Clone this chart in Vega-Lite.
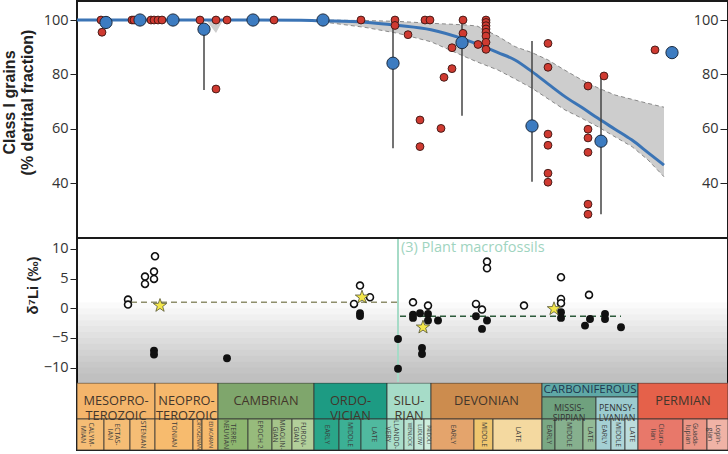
{
  "$schema": "https://vega.github.io/schema/vega-lite/v6.json",
  "padding": {"left": 1, "top": 1, "right": 0, "bottom": 0},
  "width": 651,
  "height": 449,
  "config": {
    "view": {"stroke": "#1a1a1a", "strokeWidth": 2},
    "axis": {"labelFont": "Open Sans", "labelFontSize": 14.5, "labelColor": "#333333", "tickColor": "#222222", "domain": false, "grid": false, "titleFont": "Liberation Sans", "titleFontWeight": "bold", "titleFontSize": 16, "titleColor": "#222222"}
  },
  "datasets": {
    "fit": [
      {"x": 0, "fit": 100, "lo": 100, "hi": 100},
      {"x": 123, "fit": 100, "lo": 100, "hi": 100},
      {"x": 129, "fit": 100, "lo": 100, "hi": 100},
      {"x": 139, "fit": 100, "lo": 95.2, "hi": 100},
      {"x": 146, "fit": 100, "lo": 100, "hi": 100},
      {"x": 150, "fit": 100, "lo": 100, "hi": 100},
      {"x": 224, "fit": 99.9, "lo": 100, "hi": 100},
      {"x": 246, "fit": 99.7, "lo": 99.3, "hi": 100},
      {"x": 288, "fit": 99.2, "lo": 97.3, "hi": 99.8},
      {"x": 321, "fit": 98.0, "lo": 95.1, "hi": 99.5},
      {"x": 354, "fit": 96.4, "lo": 92.0, "hi": 98.8},
      {"x": 388, "fit": 92.8, "lo": 86.5, "hi": 98.2},
      {"x": 400, "fit": 91.2, "lo": 84.6, "hi": 97.8},
      {"x": 421, "fit": 88.0, "lo": 81.6, "hi": 94.0},
      {"x": 438, "fit": 85.3, "lo": 78.3, "hi": 90.2},
      {"x": 455, "fit": 81.0, "lo": 74.9, "hi": 88.0},
      {"x": 471, "fit": 76.5, "lo": 71.0, "hi": 85.3},
      {"x": 488, "fit": 71.8, "lo": 66.9, "hi": 81.5},
      {"x": 505, "fit": 67.8, "lo": 63.8, "hi": 77.9},
      {"x": 521, "fit": 63.8, "lo": 60.7, "hi": 75.0},
      {"x": 538, "fit": 59.8, "lo": 57.0, "hi": 72.4},
      {"x": 555, "fit": 55.8, "lo": 53.4, "hi": 70.8},
      {"x": 571, "fit": 51.2, "lo": 48.5, "hi": 69.3},
      {"x": 587, "fit": 46.6, "lo": 42.3, "hi": 67.9}
    ],
    "red": [
      {"x": 24, "v": 100}, {"x": 25, "v": 95.5}, {"x": 55, "v": 100}, {"x": 57, "v": 100},
      {"x": 74, "v": 100}, {"x": 77, "v": 100}, {"x": 81, "v": 100}, {"x": 85, "v": 100},
      {"x": 123, "v": 100}, {"x": 139, "v": 100}, {"x": 139, "v": 74.6}, {"x": 150, "v": 100},
      {"x": 197, "v": 100}, {"x": 284, "v": 100}, {"x": 318, "v": 100}, {"x": 318, "v": 98},
      {"x": 331, "v": 94.6}, {"x": 348, "v": 100}, {"x": 353, "v": 100}, {"x": 343, "v": 63.2},
      {"x": 343, "v": 53.4}, {"x": 367, "v": 78.9}, {"x": 375, "v": 82.1}, {"x": 364, "v": 60.1},
      {"x": 375, "v": 89.8}, {"x": 386, "v": 100}, {"x": 386, "v": 95.1}, {"x": 401, "v": 91.0},
      {"x": 409, "v": 100}, {"x": 409, "v": 99.1}, {"x": 409, "v": 97.9}, {"x": 409, "v": 96.7},
      {"x": 409, "v": 95.5}, {"x": 409, "v": 94.1}, {"x": 409, "v": 91.8}, {"x": 409, "v": 89.2},
      {"x": 471, "v": 91.4}, {"x": 471, "v": 82.6}, {"x": 471, "v": 58.0}, {"x": 471, "v": 53.9},
      {"x": 471, "v": 43.6}, {"x": 471, "v": 40.3}, {"x": 511, "v": 75.7}, {"x": 511, "v": 59.8},
      {"x": 511, "v": 56.6}, {"x": 511, "v": 51.3}, {"x": 511, "v": 32.2}, {"x": 511, "v": 28.5},
      {"x": 527, "v": 79.4}, {"x": 578, "v": 89.0}
    ],
    "blue": [
      {"x": 29, "v": 99.1}, {"x": 63, "v": 100}, {"x": 96, "v": 100}, {"x": 127, "v": 96.6},
      {"x": 176, "v": 100}, {"x": 246, "v": 100}, {"x": 316, "v": 84.1}, {"x": 385, "v": 91.7},
      {"x": 455, "v": 61.0}, {"x": 524, "v": 55.4}, {"x": 595, "v": 88.0}
    ],
    "bars": [
      {"x": 127, "lo": 74.2, "hi": 96.6}, {"x": 316, "lo": 52.8, "hi": 100},
      {"x": 385, "lo": 64.8, "hi": 100}, {"x": 455, "lo": 40.5, "hi": 92.3},
      {"x": 524, "lo": 28.5, "hi": 79.4}
    ],
    "shade": [
      {"top": 1.0}, {"top": 0.0}, {"top": -1.0}, {"top": -2.0}, {"top": -3.0}, {"top": -4.0},
      {"top": -5.0}, {"top": -6.0}, {"top": -7.0}, {"top": -8.0}, {"top": -9.0}, {"top": -10.0}, {"top": -11.0}
    ],
    "li": [
      {"x": 51, "v": 1.47, "kind": "open"}, {"x": 51, "v": 0.62, "kind": "open"},
      {"x": 68, "v": 4.1, "kind": "open"}, {"x": 68, "v": 5.35, "kind": "open"},
      {"x": 78, "v": 8.77, "kind": "open"}, {"x": 77, "v": 6.19, "kind": "open"},
      {"x": 77, "v": 4.95, "kind": "open"}, {"x": 277, "v": 0.74, "kind": "open"},
      {"x": 283, "v": 3.83, "kind": "open"}, {"x": 293, "v": 1.86, "kind": "open"},
      {"x": 336, "v": 1.0, "kind": "open"}, {"x": 351, "v": 0.45, "kind": "open"},
      {"x": 399, "v": 0.74, "kind": "open"}, {"x": 405, "v": -0.22, "kind": "open"},
      {"x": 410, "v": 7.88, "kind": "open"}, {"x": 410, "v": 6.75, "kind": "open"},
      {"x": 447, "v": 0.46, "kind": "open"}, {"x": 484, "v": 5.23, "kind": "open"},
      {"x": 484, "v": 1.58, "kind": "open"}, {"x": 484, "v": 0.85, "kind": "open"},
      {"x": 512, "v": 2.26, "kind": "open"},
      {"x": 77, "v": -7.13, "kind": "filled"}, {"x": 77, "v": -7.8, "kind": "filled"},
      {"x": 150, "v": -8.43, "kind": "filled"}, {"x": 283, "v": -0.84, "kind": "filled"},
      {"x": 283, "v": -1.3, "kind": "filled"}, {"x": 321, "v": -5.17, "kind": "filled"},
      {"x": 321, "v": -10.2, "kind": "filled"}, {"x": 336, "v": -1.06, "kind": "filled"},
      {"x": 336, "v": -1.62, "kind": "filled"}, {"x": 343, "v": -0.84, "kind": "filled"},
      {"x": 351, "v": -0.95, "kind": "filled"}, {"x": 351, "v": -2.07, "kind": "filled"},
      {"x": 361, "v": -2.07, "kind": "filled"}, {"x": 345, "v": -6.68, "kind": "filled"},
      {"x": 345, "v": -7.7, "kind": "filled"}, {"x": 399, "v": -1.35, "kind": "filled"},
      {"x": 410, "v": -2.07, "kind": "filled"}, {"x": 405, "v": -3.48, "kind": "filled"},
      {"x": 484, "v": -0.67, "kind": "filled"}, {"x": 484, "v": -1.62, "kind": "filled"},
      {"x": 513, "v": -1.8, "kind": "filled"}, {"x": 508, "v": -2.92, "kind": "filled"},
      {"x": 528, "v": -0.95, "kind": "filled"}, {"x": 528, "v": -1.8, "kind": "filled"},
      {"x": 544, "v": -3.2, "kind": "filled"},
      {"x": 83, "v": 0.45, "kind": "star"}, {"x": 285, "v": 1.86, "kind": "star"},
      {"x": 346, "v": -3.2, "kind": "star"}, {"x": 477, "v": -0.1, "kind": "star"}
    ],
    "means": [
      {"x0": 54, "x1": 321, "v": 1.0, "group": "pre"},
      {"x0": 323, "x1": 544, "v": -1.35, "group": "post"}
    ],
    "units": [
      {"id": "MESO", "label": "MESOPRO-\nTEROZOIC", "tier": "period", "x0": 0, "x1": 78, "y0": 0, "y1": 36},
      {"id": "NEO", "label": "NEOPRO-\nTEROZOIC", "tier": "period", "x0": 78, "x1": 141, "y0": 0, "y1": 36},
      {"id": "CAM", "label": "CAMBRIAN", "tier": "period", "x0": 141, "x1": 237, "y0": 0, "y1": 36},
      {"id": "ORD", "label": "ORDO-\nVICIAN", "tier": "period", "x0": 237, "x1": 310, "y0": 0, "y1": 36},
      {"id": "SIL", "label": "SILU-\nRIAN", "tier": "period", "x0": 310, "x1": 354, "y0": 0, "y1": 36},
      {"id": "DEV", "label": "DEVONIAN", "tier": "period", "x0": 354, "x1": 465, "y0": 0, "y1": 36},
      {"id": "CARB", "label": "CARBONIFEROUS", "tier": "carb", "x0": 465, "x1": 561, "y0": 0, "y1": 14},
      {"id": "MISS", "label": "MISSIS-\nSIPPIAN", "tier": "sub", "x0": 465, "x1": 519, "y0": 14, "y1": 36},
      {"id": "PENN", "label": "PENNSY-\nLVANIAN", "tier": "sub", "x0": 519, "x1": 561, "y0": 14, "y1": 36},
      {"id": "PERM", "label": "PERMIAN", "tier": "period", "x0": 561, "x1": 651, "y0": 0, "y1": 36},
      {"id": "CALY", "label": "CALYM-\nMIAN", "tier": "stage", "x0": 0, "x1": 27, "y0": 36, "y1": 67},
      {"id": "ECTA", "label": "ECTAS-\nIAN", "tier": "stage", "x0": 27, "x1": 53, "y0": 36, "y1": 67},
      {"id": "STEN", "label": "STENIAN", "tier": "stage", "x0": 53, "x1": 78, "y0": 36, "y1": 67},
      {"id": "TON", "label": "TONIAN", "tier": "stage", "x0": 78, "x1": 116, "y0": 36, "y1": 67},
      {"id": "CRYO", "label": "CRYOGENIAN", "tier": "tiny", "x0": 116, "x1": 125, "y0": 36, "y1": 67},
      {"id": "EDIA", "label": "EDIACARAN", "tier": "tiny", "x0": 125, "x1": 141, "y0": 36, "y1": 67},
      {"id": "TERR", "label": "TERRE-\nNEUVIAN", "tier": "stage", "x0": 141, "x1": 171, "y0": 36, "y1": 67},
      {"id": "EP2", "label": "EPOCH 2", "tier": "stage", "x0": 171, "x1": 195, "y0": 36, "y1": 67},
      {"id": "MIAO", "label": "MIAOLIN-\nGIAN", "tier": "stage", "x0": 195, "x1": 215, "y0": 36, "y1": 67},
      {"id": "FURO", "label": "FURON-\nGIAN", "tier": "stage", "x0": 215, "x1": 237, "y0": 36, "y1": 67},
      {"id": "ORD-E", "label": "EARLY", "tier": "stage", "x0": 237, "x1": 262, "y0": 36, "y1": 67},
      {"id": "ORD-M", "label": "MIDDLE", "tier": "stage", "x0": 262, "x1": 284, "y0": 36, "y1": 67},
      {"id": "ORD-L", "label": "LATE", "tier": "stage", "x0": 284, "x1": 310, "y0": 36, "y1": 67},
      {"id": "LLAN", "label": "LLANDO-\nVERY", "tier": "stage", "x0": 310, "x1": 327, "y0": 36, "y1": 67},
      {"id": "WENL", "label": "WENLOCK", "tier": "tiny", "x0": 327, "x1": 337, "y0": 36, "y1": 67},
      {"id": "LUDL", "label": "LUDLOW", "tier": "tiny", "x0": 337, "x1": 347, "y0": 36, "y1": 67},
      {"id": "PRID", "label": "PRIDOLI", "tier": "tiny", "x0": 347, "x1": 354, "y0": 36, "y1": 67},
      {"id": "DEV-E", "label": "EARLY", "tier": "stage", "x0": 354, "x1": 397, "y0": 36, "y1": 67},
      {"id": "DEV-M", "label": "MIDDLE", "tier": "stage", "x0": 397, "x1": 416, "y0": 36, "y1": 67},
      {"id": "DEV-L", "label": "LATE", "tier": "stage", "x0": 416, "x1": 465, "y0": 36, "y1": 67},
      {"id": "MISS-E", "label": "EARLY", "tier": "stage", "x0": 465, "x1": 478, "y0": 36, "y1": 67},
      {"id": "MISS-M", "label": "MIDDLE", "tier": "stage", "x0": 478, "x1": 506, "y0": 36, "y1": 67},
      {"id": "MISS-L", "label": "LATE", "tier": "stage", "x0": 506, "x1": 519, "y0": 36, "y1": 67},
      {"id": "PENN-E", "label": "EARLY", "tier": "stage", "x0": 519, "x1": 534, "y0": 36, "y1": 67},
      {"id": "PENN-M", "label": "MIDDLE", "tier": "stage", "x0": 534, "x1": 548, "y0": 36, "y1": 67},
      {"id": "PENN-L", "label": "LATE", "tier": "stage", "x0": 548, "x1": 561, "y0": 36, "y1": 67},
      {"id": "CIS", "label": "Cisura-\nlian", "tier": "stage", "x0": 561, "x1": 606, "y0": 36, "y1": 67},
      {"id": "GUA", "label": "Guada-\nlupian", "tier": "stage", "x0": 606, "x1": 630, "y0": 36, "y1": 67},
      {"id": "LOP", "label": "Lopin-\ngian", "tier": "stage", "x0": 630, "x1": 651, "y0": 36, "y1": 67}
    ]
  },
  "resolve": {"scale": {"y": "independent"}},
  "layer": [
    {
      "data": {"name": "fit"},
      "mark": {"type": "area", "color": "#cdcdcd"},
      "encoding": {
        "x": {"field": "x", "type": "quantitative", "scale": {"domain": [0, 651], "nice": false}, "axis": null},
        "y": {"field": "lo", "type": "quantitative", "scale": {"domain": [19.76, 107], "range": [237, 0], "nice": false},
          "axis": {"orient": "left", "values": [40, 60, 80, 100], "tickSize": 7, "labelPadding": 2, "title": ["Class I grains", "(% detrital fraction)"], "titlePadding": 8, "titleY": 101}},
        "y2": {"field": "hi"}
      }
    },
    {
      "data": {"name": "fit"},
      "transform": [{"filter": "datum.x >= 246"}],
      "mark": {"type": "line", "color": "#8a8a8a", "strokeWidth": 1, "strokeDash": [4, 3]},
      "encoding": {
        "x": {"field": "x", "type": "quantitative", "scale": {"domain": [0, 651], "nice": false}, "axis": null},
        "y": {"field": "hi", "type": "quantitative", "scale": {"domain": [19.76, 107], "range": [237, 0], "nice": false}, "axis": null}
      }
    },
    {
      "data": {"name": "fit"},
      "transform": [{"filter": "datum.x >= 246"}],
      "mark": {"type": "line", "color": "#8a8a8a", "strokeWidth": 1, "strokeDash": [4, 3]},
      "encoding": {
        "x": {"field": "x", "type": "quantitative", "scale": {"domain": [0, 651], "nice": false}, "axis": null},
        "y": {"field": "lo", "type": "quantitative", "scale": {"domain": [19.76, 107], "range": [237, 0], "nice": false}, "axis": null}
      }
    },
    {
      "data": {"name": "fit"},
      "mark": {"type": "line", "color": "#3b74b5", "strokeWidth": 3, "interpolate": "monotone"},
      "encoding": {
        "x": {"field": "x", "type": "quantitative", "scale": {"domain": [0, 651], "nice": false}, "axis": null},
        "y": {"field": "fit", "type": "quantitative", "scale": {"domain": [19.76, 107], "range": [237, 0], "nice": false},
          "axis": {"orient": "right", "values": [40, 60, 80, 100], "offset": -8, "tickSize": 7, "labelAlign": "right", "labelPadding": -9, "title": null}}
      }
    },
    {
      "data": {"name": "bars"},
      "mark": {"type": "rule", "color": "#444444", "strokeWidth": 1.5},
      "encoding": {
        "x": {"field": "x", "type": "quantitative", "scale": {"domain": [0, 651], "nice": false}, "axis": null},
        "y": {"field": "lo", "type": "quantitative", "scale": {"domain": [19.76, 107], "range": [237, 0], "nice": false}, "axis": null},
        "y2": {"field": "hi"}
      }
    },
    {
      "data": {"name": "red"},
      "mark": {"type": "circle", "fill": "#cf3a31", "stroke": "#3a1512", "strokeWidth": 0.9, "size": 62, "opacity": 1},
      "encoding": {
        "x": {"field": "x", "type": "quantitative", "scale": {"domain": [0, 651], "nice": false}, "axis": null},
        "y": {"field": "v", "type": "quantitative", "scale": {"domain": [19.76, 107], "range": [237, 0], "nice": false}, "axis": null}
      }
    },
    {
      "data": {"name": "blue"},
      "mark": {"type": "circle", "fill": "#3d7cc1", "stroke": "#1b2a3e", "strokeWidth": 1, "size": 150, "opacity": 1},
      "encoding": {
        "x": {"field": "x", "type": "quantitative", "scale": {"domain": [0, 651], "nice": false}, "axis": null},
        "y": {"field": "v", "type": "quantitative", "scale": {"domain": [19.76, 107], "range": [237, 0], "nice": false}, "axis": null}
      }
    },
    {
      "data": {"name": "shade"},
      "mark": {"type": "rect", "color": "#000000", "opacity": 0.02},
      "encoding": {
        "x": {"datum": 0, "type": "quantitative", "scale": {"domain": [0, 651], "nice": false}, "axis": null},
        "x2": {"datum": 651},
        "y": {"field": "top", "type": "quantitative", "scale": {"domain": [-12.43, 11.85], "range": [381, 237], "nice": false},
          "axis": {"orient": "left", "values": [-10, -5, 0, 5, 10], "tickSize": 7, "labelPadding": 2, "title": "δ⁷Li (‰)", "titleFontSize": 15, "titlePadding": 3, "titleY": 284}},
        "y2": {"datum": -12.43}
      }
    },
    {
      "data": {"values": [{"pos": 321, "top": 11.85, "bottom": -12.43}]},
      "mark": {"type": "rule", "color": "#a6dbc7", "strokeWidth": 2},
      "encoding": {
        "x": {"field": "pos", "type": "quantitative", "scale": {"domain": [0, 651], "nice": false}, "axis": null},
        "y": {"field": "top", "type": "quantitative", "scale": {"domain": [-12.43, 11.85], "range": [381, 237], "nice": false}, "axis": null},
        "y2": {"field": "bottom"}
      }
    },
    {
      "data": {"values": [{"x": 324, "v": 10.1, "label": "(3) Plant macrofossils"}]},
      "mark": {"type": "text", "align": "left", "baseline": "middle", "fontSize": 14.5, "color": "#9fd4c0", "font": "Open Sans"},
      "encoding": {
        "x": {"field": "x", "type": "quantitative", "scale": {"domain": [0, 651], "nice": false}, "axis": null},
        "y": {"field": "v", "type": "quantitative", "scale": {"domain": [-12.43, 11.85], "range": [381, 237], "nice": false}, "axis": null},
        "text": {"field": "label"}
      }
    },
    {
      "data": {"name": "means"},
      "mark": {"type": "rule", "strokeWidth": 1.5, "strokeDash": [6, 4]},
      "encoding": {
        "x": {"field": "x0", "type": "quantitative", "scale": {"domain": [0, 651], "nice": false}, "axis": null},
        "x2": {"field": "x1"},
        "y": {"field": "v", "type": "quantitative", "scale": {"domain": [-12.43, 11.85], "range": [381, 237], "nice": false}, "axis": null},
        "color": {"field": "group", "type": "nominal", "scale": {"domain": ["pre", "post"], "range": ["#8e8e6c", "#2c5a3a"]}, "legend": null}
      }
    },
    {
      "data": {"name": "li"},
      "transform": [{"filter": "datum.kind === 'open'"}],
      "mark": {"type": "point", "shape": "circle", "filled": true, "fill": "#ffffff", "stroke": "#111111", "strokeWidth": 1.6, "size": 48, "opacity": 1},
      "encoding": {
        "x": {"field": "x", "type": "quantitative", "scale": {"domain": [0, 651], "nice": false}, "axis": null},
        "y": {"field": "v", "type": "quantitative", "scale": {"domain": [-12.43, 11.85], "range": [381, 237], "nice": false}, "axis": null}
      }
    },
    {
      "data": {"name": "li"},
      "transform": [{"filter": "datum.kind === 'filled'"}],
      "mark": {"type": "circle", "color": "#111111", "size": 62, "opacity": 1},
      "encoding": {
        "x": {"field": "x", "type": "quantitative", "scale": {"domain": [0, 651], "nice": false}, "axis": null},
        "y": {"field": "v", "type": "quantitative", "scale": {"domain": [-12.43, 11.85], "range": [381, 237], "nice": false}, "axis": null}
      }
    },
    {
      "data": {"name": "li"},
      "transform": [{"filter": "datum.kind === 'star'"}],
      "mark": {"type": "point", "shape": "M0,-1L0.235,-0.324L0.951,-0.309L0.38,0.124L0.588,0.809L0,0.4L-0.588,0.809L-0.38,0.124L-0.951,-0.309L-0.235,-0.324Z", "filled": true, "fill": "#f3e64a", "stroke": "#555533", "strokeWidth": 0.8, "size": 200, "opacity": 1},
      "encoding": {
        "x": {"field": "x", "type": "quantitative", "scale": {"domain": [0, 651], "nice": false}, "axis": null},
        "y": {"field": "v", "type": "quantitative", "scale": {"domain": [-12.43, 11.85], "range": [381, 237], "nice": false}, "axis": null}
      }
    },
    {
      "data": {"values": [{"left": 0, "right": 651, "edge": 19.76}]},
      "mark": {"type": "rule", "color": "#1a1a1a", "strokeWidth": 2},
      "encoding": {
        "x": {"field": "left", "type": "quantitative", "scale": {"domain": [0, 651], "nice": false}, "axis": null},
        "x2": {"field": "right"},
        "y": {"field": "edge", "type": "quantitative", "scale": {"domain": [19.76, 107], "range": [237, 0], "nice": false}, "axis": null}
      }
    },
    {
      "data": {"name": "units"},
      "mark": {"type": "rect", "stroke": "#333333", "strokeWidth": 0.8},
      "encoding": {
        "x": {"field": "x0", "type": "quantitative", "scale": {"domain": [0, 651], "nice": false}, "axis": null},
        "x2": {"field": "x1"},
        "y": {"field": "y0", "type": "quantitative", "scale": {"domain": [0, 67], "range": [382, 449], "nice": false}, "axis": null},
        "y2": {"field": "y1"},
        "fill": {"field": "id", "type": "nominal", "legend": null, "scale": {
          "domain": ["MESO", "NEO", "CAM", "ORD", "SIL", "DEV", "CARB", "MISS", "PENN", "PERM", "CALY", "ECTA", "STEN", "TON", "CRYO", "EDIA", "TERR", "EP2", "MIAO", "FURO", "ORD-E", "ORD-M", "ORD-L", "LLAN", "WENL", "LUDL", "PRID", "DEV-E", "DEV-M", "DEV-L", "MISS-E", "MISS-M", "MISS-L", "PENN-E", "PENN-M", "PENN-L", "CIS", "GUA", "LOP"],
          "range": ["#f4b56b", "#f6b86c", "#7fa66c", "#1d9b83", "#a6dcc8", "#cc8c4e", "#5fa8a6", "#6fa17e", "#9ccbcf", "#e5614a", "#f5bd75", "#f5bd75", "#f5bd75", "#f7bb6e", "#f7bb6e", "#f7bb6e", "#8db56f", "#97bb7c", "#a5c48a", "#b2cf9a", "#2aa689", "#3cb095", "#50b99f", "#a9deca", "#b7e3d1", "#c2e8d8", "#cfeede", "#e4a46c", "#efc66f", "#f4d9a0", "#7aa884", "#86b08e", "#93bb96", "#a4d0d4", "#b0d6d8", "#bcdcdc", "#e8786a", "#eb9686", "#f0b3a6"]
        }}
      }
    },
    {
      "data": {"name": "units"},
      "transform": [{"filter": "datum.tier === 'period'"}, {"calculate": "(datum.x0 + datum.x1) / 2", "as": "xm"}, {"calculate": "(datum.y0 + datum.y1) / 2", "as": "ym"}],
      "mark": {"type": "text", "font": "Open Sans", "fontSize": 12.8, "lineBreak": "\n", "lineHeight": 14.5, "color": "#43362b", "align": "center", "baseline": "middle"},
      "encoding": {
        "x": {"field": "xm", "type": "quantitative", "scale": {"domain": [0, 651], "nice": false}, "axis": null},
        "y": {"field": "ym", "type": "quantitative", "scale": {"domain": [0, 67], "range": [382, 449], "nice": false}, "axis": null},
        "text": {"field": "label"}
      }
    },
    {
      "data": {"name": "units"},
      "transform": [{"filter": "datum.tier === 'carb'"}, {"calculate": "(datum.x0 + datum.x1) / 2", "as": "xm"}, {"calculate": "(datum.y0 + datum.y1) / 2", "as": "ym"}],
      "mark": {"type": "text", "font": "Open Sans", "fontSize": 11.5, "color": "#1e3850", "align": "center", "baseline": "middle"},
      "encoding": {
        "x": {"field": "xm", "type": "quantitative", "scale": {"domain": [0, 651], "nice": false}, "axis": null},
        "y": {"field": "ym", "type": "quantitative", "scale": {"domain": [0, 67], "range": [382, 449], "nice": false}, "axis": null},
        "text": {"field": "label"}
      }
    },
    {
      "data": {"name": "units"},
      "transform": [{"filter": "datum.tier === 'sub'"}, {"calculate": "(datum.x0 + datum.x1) / 2", "as": "xm"}, {"calculate": "(datum.y0 + datum.y1) / 2", "as": "ym"}],
      "mark": {"type": "text", "font": "Open Sans", "fontSize": 8.8, "lineBreak": "\n", "lineHeight": 9.5, "color": "#333333", "align": "center", "baseline": "middle"},
      "encoding": {
        "x": {"field": "xm", "type": "quantitative", "scale": {"domain": [0, 651], "nice": false}, "axis": null},
        "y": {"field": "ym", "type": "quantitative", "scale": {"domain": [0, 67], "range": [382, 449], "nice": false}, "axis": null},
        "text": {"field": "label"}
      }
    },
    {
      "data": {"name": "units"},
      "transform": [{"filter": "datum.tier === 'stage'"}, {"calculate": "(datum.x0 + datum.x1) / 2", "as": "xm"}, {"calculate": "(datum.y0 + datum.y1) / 2", "as": "ym"}],
      "mark": {"type": "text", "font": "Open Sans", "fontSize": 6.8, "angle": 90, "lineBreak": "\n", "lineHeight": 7.5, "color": "#3a3a3a", "align": "center", "baseline": "middle"},
      "encoding": {
        "x": {"field": "xm", "type": "quantitative", "scale": {"domain": [0, 651], "nice": false}, "axis": null},
        "y": {"field": "ym", "type": "quantitative", "scale": {"domain": [0, 67], "range": [382, 449], "nice": false}, "axis": null},
        "text": {"field": "label"}
      }
    },
    {
      "data": {"name": "units"},
      "transform": [{"filter": "datum.tier === 'tiny'"}, {"calculate": "(datum.x0 + datum.x1) / 2", "as": "xm"}, {"calculate": "(datum.y0 + datum.y1) / 2", "as": "ym"}],
      "mark": {"type": "text", "font": "Open Sans", "fontSize": 4.9, "angle": 90, "color": "#3a3a3a", "align": "center", "baseline": "middle"},
      "encoding": {
        "x": {"field": "xm", "type": "quantitative", "scale": {"domain": [0, 651], "nice": false}, "axis": null},
        "y": {"field": "ym", "type": "quantitative", "scale": {"domain": [0, 67], "range": [382, 449], "nice": false}, "axis": null},
        "text": {"field": "label"}
      }
    }
  ]
}
